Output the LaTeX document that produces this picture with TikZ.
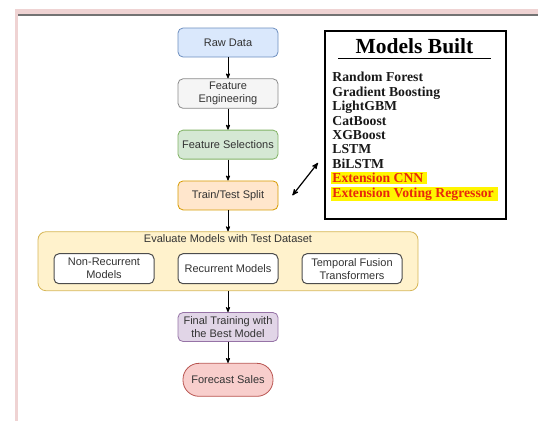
\documentclass[tikz,border=0pt]{standalone}
\usepackage{fontspec}
\setmainfont{Liberation Sans}
\newfontfamily\modelfont{Liberation Serif}
\usetikzlibrary{arrows,positioning}
\definecolor{txtgray}{HTML}{333333}
\definecolor{rawfill}{HTML}{DAE8FC}\definecolor{rawline}{HTML}{6C8EBF}
\definecolor{engfill}{HTML}{F5F5F5}\definecolor{engline}{HTML}{8A8A8A}
\definecolor{selfill}{HTML}{D5E8D4}\definecolor{selline}{HTML}{82B366}
\definecolor{splitfill}{HTML}{FFE6CC}\definecolor{splitline}{HTML}{D79B00}
\definecolor{evalfill}{HTML}{FFF2CC}\definecolor{evalline}{HTML}{D6B656}
\definecolor{finfill}{HTML}{E1D5E7}\definecolor{finline}{HTML}{9673A6}
\definecolor{fcfill}{HTML}{F8CECC}\definecolor{fcline}{HTML}{B85450}
\definecolor{framepink}{HTML}{EFD3D3}
\definecolor{extred}{RGB}{232,40,12}
\definecolor{hiyellow}{RGB}{255,245,0}

\begin{document}
\begin{tikzpicture}[x=1pt,y=-1pt,->,>=stealth',node distance=21pt and 23pt,thick,
  main node/.style={draw,rounded corners=5pt,minimum width=100pt,minimum height=29pt,align=center,text=txtgray,font=\fontsize{11}{13}\selectfont,line width=0.8pt},
  inner node/.style={main node,fill=white,draw=black!70,minimum height=30pt,line width=1pt}]
  \useasboundingbox (0,0) rectangle (538,421);
  % page frame
  \fill[framepink] (15,9) rectangle (538,14);
  \fill[framepink] (15,9) rectangle (18,421);
  \fill[black!55] (18,14) rectangle (538,16);
  % flow
  \node[main node,fill=rawfill,draw=rawline] (1) at (228,42.5) {Raw Data};
  \node[main node,fill=engfill,draw=engline,below=of 1] (2) {Feature\\Engineering};
  \node[main node,fill=selfill,draw=selline,below=of 2] (3) {Feature Selections};
  \node[main node,fill=splitfill,draw=splitline,below=of 3] (4) {Train/Test Split};
  \node[main node,fill=evalfill,draw=evalline,rounded corners=8pt,minimum width=380pt,minimum height=59pt,below=of 4,
    label={[anchor=north,text=txtgray,font=\fontsize{11}{13}\selectfont,inner sep=3pt]north:Evaluate Models with Test Dataset}] (5) {};
  \node[inner node] (5b) at ([yshift=-7.5pt]5.center) {Recurrent Models};
  \node[inner node,left=of 5b] (5a) {Non-Recurrent\\Models};
  \node[inner node,right=of 5b] (5c) {Temporal Fusion\\Transformers};
  \node[main node,fill=finfill,draw=finline,below=of 5] (6) {Final Training with\\the Best Model};
  \node[main node,fill=fcfill,draw=fcline,rounded corners=16pt,minimum width=90pt,minimum height=33pt,below=of 6] (7) {Forecast Sales};
  % models list
  \node[draw,line width=1.6pt,minimum width=181pt,minimum height=188pt,anchor=north west] (8) at (324,30) {};
  \node[anchor=base,minimum width=152pt,inner ysep=5pt,font=\modelfont\bfseries\fontsize{21.5}{24}\selectfont] (9) at (414.5,53) {Models Built};
  \node[anchor=north west,inner sep=0pt,align=left,text=black!90,font=\modelfont\bfseries\fontsize{13.7}{14.4}\selectfont] (10) at (332,72)
    {Random Forest\\Gradient Boosting\\LightGBM\\CatBoost\\XGBoost\\LSTM\\BiLSTM\\
     \setlength\fboxsep{1pt}\kern-1pt\colorbox{hiyellow}{\textcolor{extred}{Extension CNN}\hspace{3pt}}\\
     \setlength\fboxsep{1pt}\kern-1pt\colorbox{hiyellow}{\textcolor{extred}{Extension Voting Regressor}\hspace{3pt}}};
  \draw[-,line width=1.2pt] (9.south west) -- (9.south east);
  \path
  (1) edge (2)
  (2) edge (3)
  (3) edge (4)
  (4) edge (5)
  (5) edge (6)
  (6) edge (7);
  \draw[<->,line width=1.2pt] ([xshift=14pt]4.east) -- ([xshift=-6pt,yshift=-38pt]8.west);
\end{tikzpicture}
\end{document}
